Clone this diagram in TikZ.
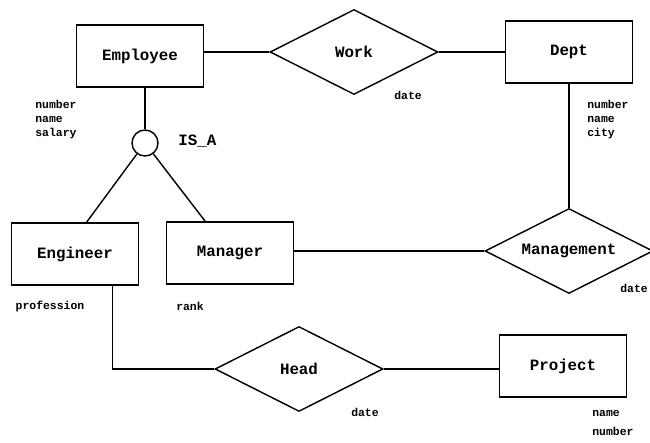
\documentclass[tikz,border=0pt]{standalone}
\usepackage{fontspec}
\setmonofont{Liberation Mono}
\usepackage{tikz}
\usetikzlibrary{shapes.geometric,positioning}
\tikzstyle{entity} = [rectangle, draw, line width=0.8pt, minimum width=2.54cm, minimum height=1.24cm, font=\ttfamily\bfseries\fontsize{9}{10}\selectfont]
\tikzstyle{relation} = [diamond, aspect=2, draw, line width=0.8pt, minimum width=3.36cm, minimum height=1.7cm, inner sep=0pt, font=\ttfamily\bfseries\fontsize{9}{10}\selectfont]
\tikzstyle{isa} = [circle, draw, line width=0.8pt, minimum size=0.52cm, inner sep=0pt]
\tikzstyle{attr} = [align=left, inner sep=0pt, font=\ttfamily\bfseries\fontsize{6.5}{8}\selectfont]
\tikzstyle{link} = [line width=0.8pt]

\begin{document}
\begin{tikzpicture}[x=0.02cm, y=-0.02cm]
\useasboundingbox (0,0) rectangle (650,443);

% Entities
\node[entity] (emp) at (140,56) {Employee};
\node[entity] (dept) at (569,52) {Dept};
\node[entity] (eng) at (75,254) {Engineer};
\node[entity] (mgr) at (230,253) {Manager};
\node[entity] (proj) at (563,366) {Project};

% Relationships
\node[relation] (work) at (354,52) {Work};
\node[relation] (mgmt) at (569,251) {Management};
\node[relation] (head) at (299,369) {Head};

% Generalisation
\node[isa] (gen) at (145,143) {};
\node[font=\ttfamily\bfseries\fontsize{9}{10}\selectfont, anchor=west, inner sep=0pt] (genlbl) at (178,141) {IS\_A};

% Attributes
\node[attr, anchor=north west] (empattr) at (35,100) {number\\name\\salary};
\node[attr, anchor=north west] (deptattr) at (587,100) {number\\name\\city};
\node[attr] (engattr) at (50,306) {profession};
\node[attr] (mgrattr) at (190,306) {rank};
\node[attr] (workattr) at (408,95) {date};
\node[attr] (mgmtattr) at (634,288) {date};
\node[attr] (headattr) at (365,412) {date};
\node[attr, anchor=north west] (projattr) at (592,410) {name\\[3pt]number};

% Links
\draw[link] (emp.east |- work.west) -- (work.west);
\draw[link] (work.east) -- (dept.west);
\draw[link] (gen.north |- emp.south) -- (gen.north);
\draw[link] (gen) -- (eng.70);
\draw[link] (gen) -- (mgr.128);
\draw[link] (mgr.east |- mgmt.west) -- (mgmt.west);
\draw[link] (dept.south) -- (mgmt.north);
\draw[link] (eng.-40) |- (head.west);
\draw[link] (head.east) -- (head.east -| proj.west);
\end{tikzpicture}
\end{document}
